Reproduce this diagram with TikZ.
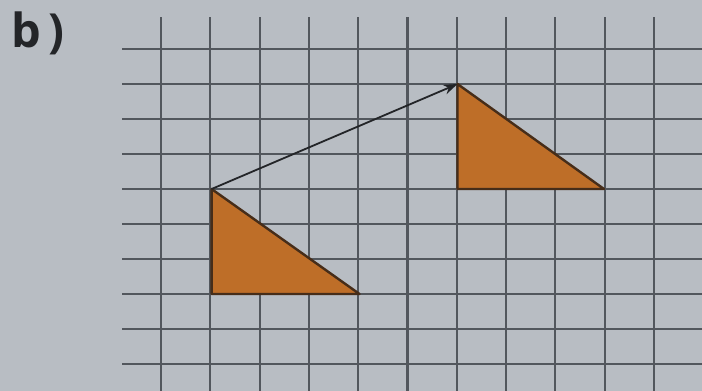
\documentclass[tikz,border=0pt]{standalone}
\usepackage{fontspec}
\setmainfont{Open Sans}
\usetikzlibrary{arrows.meta}
\definecolor{paper}{RGB}{184,189,195}
\definecolor{gridc}{RGB}{82,87,93}
\definecolor{trif}{RGB}{190,110,40}
\definecolor{tric}{RGB}{70,45,25}
\definecolor{ink}{RGB}{35,37,40}
\tikzset{
  gridline/.style={draw=gridc, line width=2.1pt},
  tri/.style={fill=trif, draw=tric, line width=2.4pt, line join=round},
  vec/.style={draw=ink, line width=1.8pt, -{Stealth[length=14pt,width=10pt]}},
  lbl/.style={anchor=north west, inner sep=0pt, text=ink, font=\fontsize{47}{50}\selectfont\bfseries}
}
\begin{document}
\begin{tikzpicture}[x=1pt,y=-1pt]
\fill[paper] (0,0) rectangle (702,391);
\useasboundingbox (0,0) rectangle (702,391);
% vertical lines
\foreach \i in {0,...,10} {
  \draw[gridline] ({161+49.3*\i},17) -- ({161+49.3*\i},391);
}
% horizontal lines
\foreach \j in {0,...,9} {
  \draw[gridline] (122,{49+35*\j}) -- (702,{49+35*\j});
}
% triangle 1
\coordinate (A) at (211.6,189);
\coordinate (B) at (211.6,294);
\coordinate (C) at (359.5,294);
% triangle 2
\coordinate (A2) at (457.5,84);
\coordinate (B2) at (457.5,189);
\coordinate (C2) at (604,189);
\filldraw[tri] (A) -- (B) -- (C) -- cycle;
\filldraw[tri] (A2) -- (B2) -- (C2) -- cycle;
\draw[vec] (A) -- (A2);
\node[lbl] (label) at (11,12) {b\kern8pt)};
\end{tikzpicture}
\end{document}
